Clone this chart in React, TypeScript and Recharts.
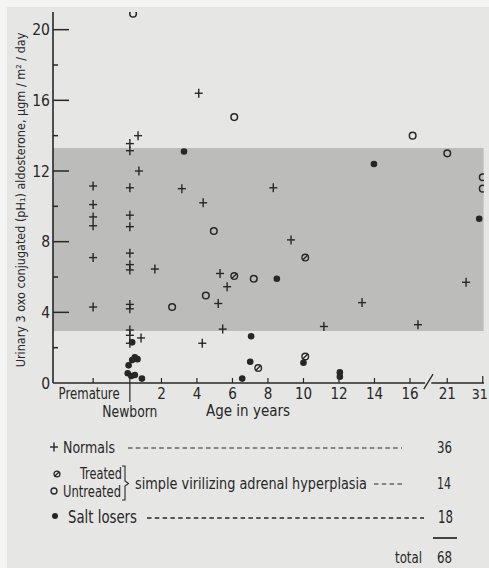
import React from 'react';
import { ScatterChart, Scatter, XAxis, YAxis, ReferenceArea, ReferenceLine } from 'recharts';

const PAPER = '#e6e6e4';
const BAND = '#bcbcbb';
const INK = '#272727';
const FONT = "'Liberation Sans Narrow', 'DejaVu Sans Condensed', 'Roboto Condensed', 'Liberation Sans', sans-serif";

// special categories on the age axis
const PREMATURE = -1.85;
const NEWBORN = 0.22;

// age axis: linear up to 17 years, compressed after the break (21 -> 31)
const pos = (age: number) => (age <= 17 ? age : 18.1 + (age - 21) * 0.2);

const xTickAges = [PREMATURE, NEWBORN, 2, 4, 6, 8, 10, 12, 14, 16, 21, 31];
const xTickLabels = ['Premature', 'Newborn', '2', '4', '6', '8', '10', '12', '14', '16', '21', '31'];
const yTicks = [0, 2, 4, 6, 8, 10, 12, 14, 16, 18, 20];
const yLabelled = [0, 4, 8, 12, 16, 20];

// normal range band (shaded)
const bandLow = 2.95;
const bandHigh = 13.3;

// + Normals (36)
const normals = [
  { age: PREMATURE, value: 11.15 },
  { age: PREMATURE, value: 10.1 },
  { age: PREMATURE, value: 9.4 },
  { age: PREMATURE, value: 8.9 },
  { age: PREMATURE, value: 7.1 },
  { age: PREMATURE, value: 4.3 },
  { age: NEWBORN, value: 13.55 },
  { age: NEWBORN, value: 13.15 },
  { age: NEWBORN, value: 11.05 },
  { age: NEWBORN, value: 9.5 },
  { age: NEWBORN, value: 8.85 },
  { age: NEWBORN, value: 7.35 },
  { age: NEWBORN, value: 6.7 },
  { age: NEWBORN, value: 6.4 },
  { age: NEWBORN, value: 4.45 },
  { age: NEWBORN, value: 4.2 },
  { age: NEWBORN, value: 3.0 },
  { age: NEWBORN, value: 2.7 },
  { age: NEWBORN, value: 2.25 },
  { age: 0.68, value: 14.0 },
  { age: 0.73, value: 12.0 },
  { age: 0.85, value: 2.55 },
  { age: 1.63, value: 6.45 },
  { age: 3.15, value: 11.0 },
  { age: 4.1, value: 16.4 },
  { age: 4.35, value: 10.2 },
  { age: 4.3, value: 2.25 },
  { age: 5.3, value: 6.2 },
  { age: 5.2, value: 4.5 },
  { age: 5.45, value: 3.05 },
  { age: 5.7, value: 5.45 },
  { age: 8.3, value: 11.05 },
  { age: 9.3, value: 8.1 },
  { age: 11.15, value: 3.2 },
  { age: 13.3, value: 4.55 },
  { age: 16.45, value: 3.3 },
  { age: 26.3, value: 5.7 },
];

// ⊘ Treated simple virilizing adrenal hyperplasia
const treated = [
  { age: 6.1, value: 6.05 },
  { age: 10.1, value: 7.1 },
  { age: 10.1, value: 1.5 },
  { age: 7.45, value: 0.85 },
];

// ○ Untreated simple virilizing adrenal hyperplasia
const untreated = [
  { age: 0.4, value: 20.9 },
  { age: 6.1, value: 15.05 },
  { age: 4.95, value: 8.6 },
  { age: 4.5, value: 4.95 },
  { age: 2.6, value: 4.3 },
  { age: 7.2, value: 5.9 },
  { age: 16.15, value: 14.0 },
  { age: 21, value: 13.0 },
  { age: 31, value: 11.65 },
  { age: 31, value: 11.0 },
];

// ● Salt losers (18)
const saltLosers = [
  { age: 0.35, value: 2.3 },
  { age: 0.5, value: 1.45 },
  { age: 0.65, value: 1.35 },
  { age: 0.35, value: 1.3 },
  { age: 0.15, value: 1.0 },
  { age: 0.1, value: 0.55 },
  { age: 0.3, value: 0.4 },
  { age: 0.5, value: 0.45 },
  { age: 0.9, value: 0.25 },
  { age: 3.27, value: 13.1 },
  { age: 8.5, value: 5.9 },
  { age: 7.05, value: 2.65 },
  { age: 7.0, value: 1.2 },
  { age: 6.55, value: 0.25 },
  { age: 10.0, value: 1.15 },
  { age: 12.05, value: 0.6 },
  { age: 12.05, value: 0.35 },
  { age: 13.97, value: 12.4 },
  { age: 30, value: 9.3 },
];

const toXY = (arr: { age: number; value: number }[]) => arr.map((d) => ({ x: pos(d.age), y: d.value }));

const X_MIN = -4.11;
const X_MAX = 20.17;

const Cross = ({ cx, cy }: any) => (
  <g stroke={INK} strokeWidth={1.4}>
    <line x1={cx - 4} y1={cy} x2={cx + 4} y2={cy} />
    <line x1={cx} y1={cy - 4.5} x2={cx} y2={cy + 4.5} />
  </g>
);
const Ring = ({ cx, cy }: any) => (
  <circle cx={cx} cy={cy} r={3.3} fill="none" stroke={INK} strokeWidth={1.5} />
);
const Slashed = ({ cx, cy }: any) => (
  <g stroke={INK} strokeWidth={1.4} fill="none">
    <circle cx={cx} cy={cy} r={3.3} />
    <line x1={cx - 2.2} y1={cy + 2.2} x2={cx + 2.2} y2={cy - 2.2} />
  </g>
);
const Dot = ({ cx, cy }: any) => <circle cx={cx} cy={cy} r={3.3} fill={INK} />;

const YTick = (props: any) => {
  const { x, y, payload } = props;
  const v = payload.value;
  const major = v % 4 === 0;
  return (
    <g>
      {v !== 0 && (
        <line x1={x} y1={y} x2={x + (major ? 16 : 5)} y2={y} stroke={INK} strokeWidth={1.5} />
      )}
      {yLabelled.includes(v) && (
        <text x={x - 3} y={y} dy="0.36em" textAnchor="end" fontSize={15.5} fill={INK} fontFamily={FONT}>
          {v}
        </text>
      )}
    </g>
  );
};

const XTick = (props: any) => {
  const { x, y, payload } = props;
  const idx = xTickAges.findIndex((a) => Math.abs(pos(a) - payload.value) < 1e-6);
  const label = xTickLabels[idx];
  if (label === 'Newborn') {
    return (
      <g>
        <line x1={x} y1={y - 5} x2={x} y2={y + 19} stroke={INK} strokeWidth={1.2} />
        <text x={x} y={y + 29} dy="0.36em" textAnchor="middle" fontSize={15} fill={INK} fontFamily={FONT} textLength={55} lengthAdjust="spacingAndGlyphs">
          {label}
        </text>
      </g>
    );
  }
  const isPrem = label === 'Premature';
  const isLast = label === '31';
  return (
    <g>
      <line x1={x} y1={y} x2={x} y2={y - (isLast ? 7 : 5)} stroke={INK} strokeWidth={1.2} />
      <text
        x={isPrem ? x - 4 : isLast ? x + 5 : x}
        y={y + 11}
        dy="0.36em"
        textAnchor={isLast ? 'end' : 'middle'}
        fontSize={isLast ? 14 : 15}
        fill={INK}
        fontFamily={FONT}
        {...(isPrem ? { textLength: 61, lengthAdjust: 'spacingAndGlyphs' } : {})}
      >
        {label}
      </text>
    </g>
  );
};

const XTitle = ({ viewBox }: any) => (
  <text x={248} y={(viewBox?.y ?? 383) + 28} dy="0.36em" textAnchor="middle" fontSize={15} fill={INK} fontFamily={FONT} textLength={84} lengthAdjust="spacingAndGlyphs">
    Age in years
  </text>
);

const YTitle = () => {
  const cx = 20;
  const cy = 200;
  return (
    <text
      x={cx}
      y={cy}
      transform={`rotate(-90 ${cx} ${cy})`}
      dy="0.36em"
      textAnchor="middle"
      fontSize={12.5}
      fill={INK}
      fontFamily={FONT}
    >
      Urinary 3 oxo conjugated (pH₁) aldosterone, µgm / m² / day
    </text>
  );
};

const txt = { fill: INK, fontFamily: FONT } as const;

const LegendBlock = () => (
  <svg width={489} height={568} style={{ position: 'absolute', left: 0, top: 0, pointerEvents: 'none' }}>
    {/* Normals */}
    <Cross cx={54} cy={447} />
    <text x={63} y={453} fontSize={16} textLength={52} lengthAdjust="spacingAndGlyphs" {...txt}>Normals</text>
    <line x1={128} y1={448} x2={402} y2={448} stroke={INK} strokeWidth={1.2} strokeDasharray="4.5 3.3" />
    <text x={437} y={453} fontSize={16} textLength={15} lengthAdjust="spacingAndGlyphs" {...txt}>36</text>
    {/* simple virilizing adrenal hyperplasia */}
    <g transform="translate(57 474) scale(0.9) translate(-57 -474)"><Slashed cx={57} cy={474} /></g>
    <text x={80} y={479} fontSize={15.5} textLength={42} lengthAdjust="spacingAndGlyphs" {...txt}>Treated</text>
    <g transform="translate(54 491) scale(0.9) translate(-54 -491)"><Ring cx={54} cy={491} /></g>
    <text x={63} y={497} fontSize={15.5} textLength={58} lengthAdjust="spacingAndGlyphs" {...txt}>Untreated</text>
    <path d="M122 466 H125 V481 L128.5 483.5 L125 486 V500 H122" fill="none" stroke={INK} strokeWidth={1.1} />
    <text x={135} y={489} fontSize={16} textLength={232} lengthAdjust="spacingAndGlyphs" {...txt}>
      simple virilizing adrenal hyperplasia
    </text>
    <line x1={374} y1={484} x2={402} y2={484} stroke={INK} strokeWidth={1.2} strokeDasharray="4.5 3.3" />
    <text x={437} y={489} fontSize={16} textLength={14} lengthAdjust="spacingAndGlyphs" {...txt}>14</text>
    {/* Salt losers */}
    <circle cx={55} cy={516} r={3} fill={INK} />
    <text x={68} y={523} fontSize={18} textLength={69} lengthAdjust="spacingAndGlyphs" {...txt}>Salt losers</text>
    <line x1={147} y1={518} x2={424} y2={518} stroke={INK} strokeWidth={1.3} strokeDasharray="4.5 3.3" />
    <text x={438} y={523} fontSize={17} textLength={15} lengthAdjust="spacingAndGlyphs" {...txt}>18</text>
    <line x1={433} y1={538} x2={457} y2={538} stroke={INK} strokeWidth={1.7} />
    {/* total */}
    <text x={395} y={563} fontSize={16} textLength={27} lengthAdjust="spacingAndGlyphs" {...txt}>total</text>
    <text x={437} y={563} fontSize={16} textLength={15} lengthAdjust="spacingAndGlyphs" {...txt}>68</text>
  </svg>
);

export default function App() {
  return (
    <div style={{ position: 'absolute', left: 0, top: 0, width: 489, height: 568, background: '#f4f4f3', overflow: 'hidden' }}>
      <div style={{ position: 'absolute', left: 7, top: 7, width: 482, height: 561, background: PAPER }} />
      <div style={{ position: 'absolute', left: 0, top: 0 }}>
        <ScatterChart width={489} height={568} margin={{ top: 12, right: 5, left: 52, bottom: 184 }}>
          <XAxis
            type="number"
            dataKey="x"
            domain={[X_MIN, X_MAX]}
            ticks={xTickAges.map(pos)}
            interval={0}
            allowDataOverflow
            axisLine={false}
            tickLine={false}
            tickSize={0}
            tickMargin={0}
            height={1}
            tick={<XTick />}
            label={<XTitle />}
          />
          <YAxis
            type="number"
            dataKey="y"
            domain={[0, 21]}
            ticks={yTicks}
            interval={0}
            allowDataOverflow
            axisLine={{ stroke: INK, strokeWidth: 1.6 }}
            tickLine={false}
            tickSize={0}
            tickMargin={0}
            width={1}
            tick={<YTick />}
            label={<YTitle />}
          />
          <ReferenceArea x1={X_MIN} x2={pos(31) + 0.05} y1={bandLow} y2={bandHigh} fill={BAND} fillOpacity={1} stroke="none" ifOverflow="visible" />
          <ReferenceLine segment={[{ x: X_MIN, y: 0 }, { x: 16.85, y: 0 }]} stroke={INK} strokeWidth={1.6} ifOverflow="visible" />
          <ReferenceLine segment={[{ x: 16.78, y: -0.35 }, { x: 17.3, y: 0.5 }]} stroke={INK} strokeWidth={1.3} ifOverflow="visible" />
          <ReferenceLine segment={[{ x: 17.2, y: 0 }, { x: X_MAX, y: 0 }]} stroke={INK} strokeWidth={1.6} ifOverflow="visible" />
          <Scatter name="Normals" data={toXY(normals)} shape={<Cross />} isAnimationActive={false} />
          <Scatter name="Treated" data={toXY(treated)} shape={<Slashed />} isAnimationActive={false} />
          <Scatter name="Untreated" data={toXY(untreated)} shape={<Ring />} isAnimationActive={false} />
          <Scatter name="Salt losers" data={toXY(saltLosers)} shape={<Dot />} isAnimationActive={false} />
        </ScatterChart>
      </div>
      <LegendBlock />
    </div>
  );
}
